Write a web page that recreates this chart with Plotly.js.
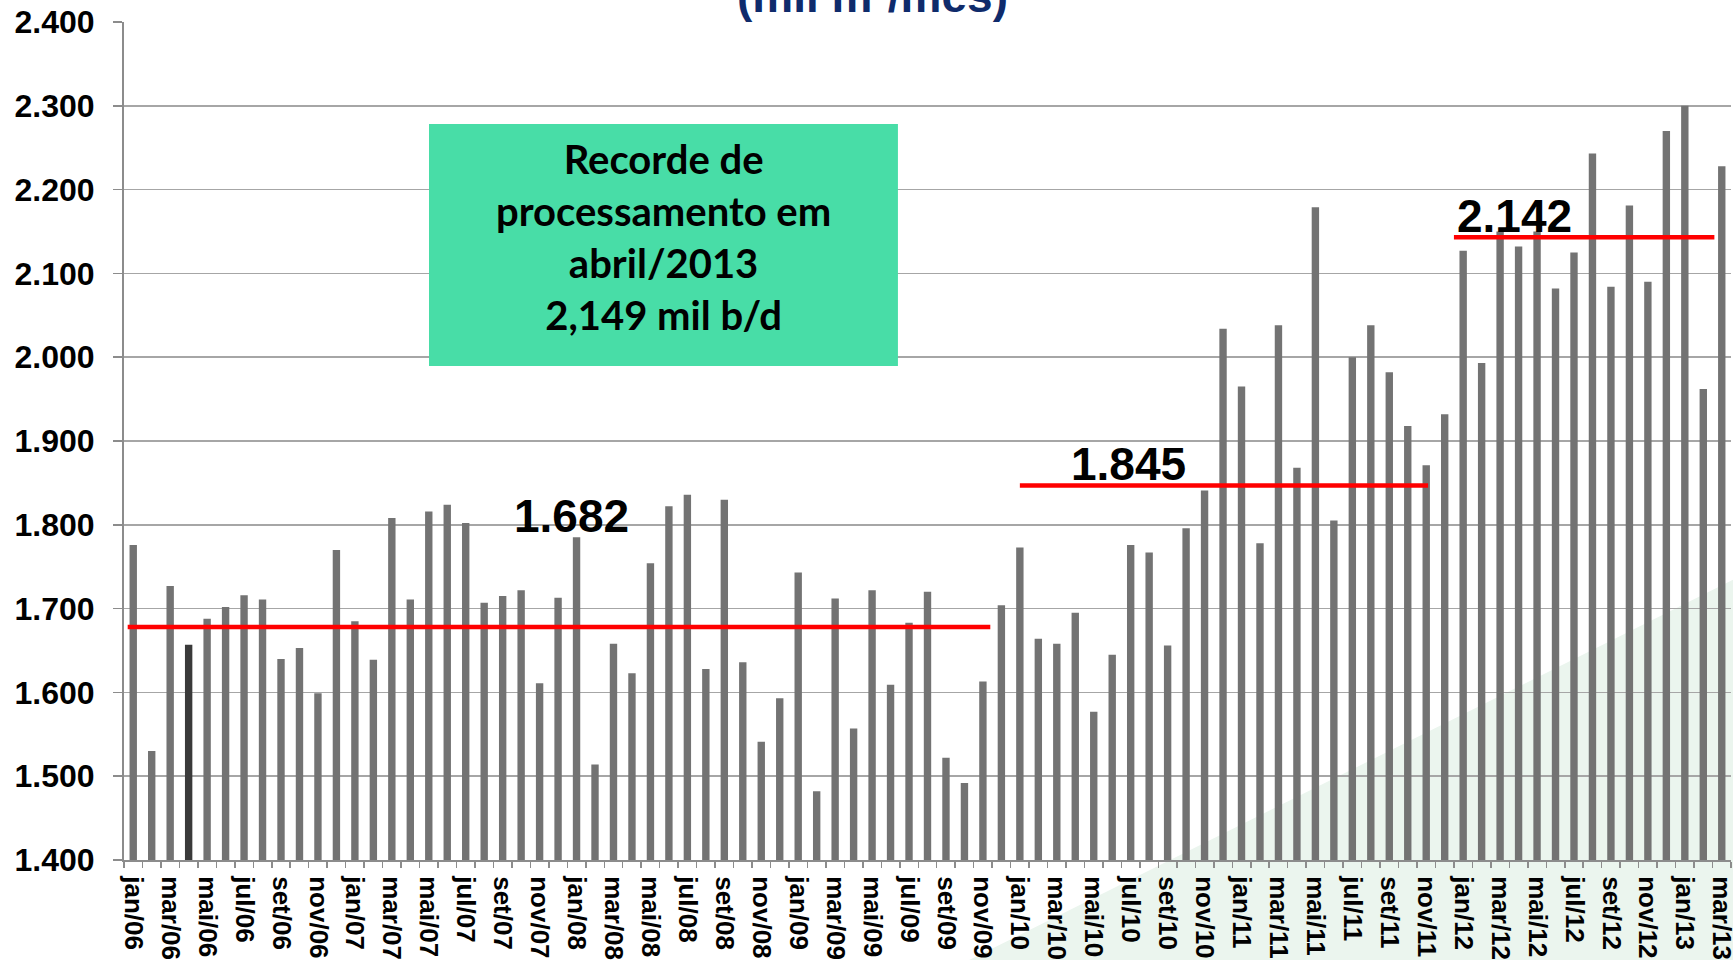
<!DOCTYPE html>
<html>
<head>
<meta charset="utf-8">
<script src="https://cdn.plot.ly/plotly-3.0.1.min.js"></script>
<style>
  html, body { margin: 0; padding: 0; background: #ffffff; }
  #chart { width: 1733px; height: 960px; }
</style>
</head>
<body>
<div id="chart"></div>
<script>
// Months (categories)
const categories = [
  'jan/06','fev/06','mar/06','abr/06','mai/06','jun/06','jul/06','ago/06','set/06','out/06','nov/06','dez/06',
  'jan/07','fev/07','mar/07','abr/07','mai/07','jun/07','jul/07','ago/07','set/07','out/07','nov/07','dez/07',
  'jan/08','fev/08','mar/08','abr/08','mai/08','jun/08','jul/08','ago/08','set/08','out/08','nov/08','dez/08',
  'jan/09','fev/09','mar/09','abr/09','mai/09','jun/09','jul/09','ago/09','set/09','out/09','nov/09','dez/09',
  'jan/10','fev/10','mar/10','abr/10','mai/10','jun/10','jul/10','ago/10','set/10','out/10','nov/10','dez/10',
  'jan/11','fev/11','mar/11','abr/11','mai/11','jun/11','jul/11','ago/11','set/11','out/11','nov/11','dez/11',
  'jan/12','fev/12','mar/12','abr/12','mai/12','jun/12','jul/12','ago/12','set/12','out/12','nov/12','dez/12',
  'jan/13','fev/13','mar/13'
];

// Monthly processing (mil m3/mes)
const processing = [
  1776, 1530, 1727, 1657, 1688, 1702, 1716, 1711, 1640, 1653, 1599, 1770,
  1685, 1639, 1808, 1711, 1816, 1824, 1802, 1707, 1715, 1722, 1611, 1713,
  1785, 1514, 1658, 1623, 1754, 1822, 1836, 1628, 1830, 1636, 1541, 1593,
  1743, 1482, 1712, 1557, 1722, 1609, 1683, 1720, 1522, 1492, 1613, 1704,
  1773, 1664, 1658, 1695, 1577, 1645, 1776, 1767, 1656, 1796, 1841, 2034,
  1965, 1778, 2038, 1868, 2179, 1805, 2000, 2038, 1982, 1918, 1871, 1932,
  2127, 1993, 2150, 2132, 2150, 2082, 2125, 2243, 2084, 2181, 2090, 2270,
  2300, 1962, 2228
];

// Period averages (red lines) and their labels
const avgLevels = [1678, 1847, 2143];
const avgLabels = ['1.682', '1.845', '2.142'];

const highlightMonth = 'abr/06';
const boxLines = ['Recorde de', 'processamento em', 'abril/2013', '2,149 mil b/d'];
const unitTitle = '(mil m³/mês)';

// Tick labels: every other month
const tickText = categories.map((c, i) => (i % 2 === 0 ? c : ''));
const barColors = categories.map(c => (c === highlightMonth ? '#3a3a3a' : '#737373'));

// Span of each average line in category-index units
const avgSpans = [[-0.3, 46.4], [48.0, 70.1], [71.5, 85.6]];
const labelPos = [[23.7, 1810], [53.9, 1873], [74.8, 2168]];

const trace = {
  type: 'bar',
  x: categories,
  y: processing,
  marker: { color: barColors, line: { width: 0 } },
  hoverinfo: 'x+y'
};

const shapes = [
  // pale green background wedge (decoration)
  {
    type: 'path', xref: 'paper', yref: 'paper', layer: 'below',
    path: 'M 0.52 -0.125 L 1.002 0.335 L 1.002 -0.125 Z',
    fillcolor: '#ebf5ee', line: { width: 0 }
  },
  // green info box
  {
    type: 'rect', xref: 'paper', yref: 'paper', layer: 'above',
    x0: 0.1898, x1: 0.4816, y0: 0.5895, y1: 0.8783,
    fillcolor: '#48dda7', line: { width: 0 }
  }
];
avgLevels.forEach((lv, i) => {
  shapes.push({
    type: 'line', xref: 'x', yref: 'y',
    x0: avgSpans[i][0], x1: avgSpans[i][1], y0: lv, y1: lv,
    line: { color: '#ff0000', width: 4.5 }
  });
});

const annotations = [
  {
    xref: 'paper', yref: 'paper', x: 0.466, y: 1.031,
    xanchor: 'center', yanchor: 'middle', showarrow: false,
    text: '<b>' + unitTitle + '</b>',
    font: { family: 'Liberation Sans, Arial, sans-serif', size: 46, color: '#0f2b6b' }
  },
  {
    xref: 'paper', yref: 'paper', x: 0.3357, y: 0.744,
    xanchor: 'center', yanchor: 'middle', showarrow: false,
    text: '<b>' + boxLines.join('<br>') + '</b>',
    align: 'center',
    font: { family: 'Lato, Open Sans, sans-serif', size: 40, color: '#000000' }
  }
];
avgLabels.forEach((lab, i) => {
  annotations.push({
    xref: 'x', yref: 'y', x: labelPos[i][0], y: labelPos[i][1],
    xanchor: 'center', yanchor: 'middle', showarrow: false,
    text: '<b>' + lab + '</b>',
    font: { family: 'Liberation Sans, Arial, sans-serif', size: 46, color: '#000000' }
  });
});

const layout = {
  width: 1733, height: 960,
  margin: { l: 124, r: 2, t: 22, b: 100, pad: 0 },
  paper_bgcolor: '#ffffff',
  plot_bgcolor: 'rgba(0,0,0,0)',
  separators: ',.',
  showlegend: false,
  bargap: 0.6,
  xaxis: {
    type: 'category',
    tickmode: 'array',
    tickvals: categories,
    ticktext: tickText,
    tickson: 'boundaries',
    ticks: 'outside', ticklen: 6, tickwidth: 1.5, tickcolor: '#8c8c8c',
    tickangle: 90,
    ticklabelstandoff: 9,
    tickfont: { family: 'Liberation Sans, Arial, sans-serif', size: 26, color: '#000000', weight: 'bold' },
    showline: true, linecolor: '#8c8c8c', linewidth: 2,
    showgrid: false, zeroline: false,
    range: [-0.5, 86.5]
  },
  yaxis: {
    range: [1400, 2400],
    tickmode: 'linear', tick0: 1400, dtick: 100,
    tickformat: ',d',
    ticks: 'outside', ticklen: 9, tickwidth: 1.5, tickcolor: '#8c8c8c',
    ticklabelstandoff: 12,
    tickfont: { family: 'Liberation Sans, Arial, sans-serif', size: 32, color: '#000000', weight: 'bold' },
    showline: true, linecolor: '#8c8c8c', linewidth: 2,
    showgrid: true, gridcolor: '#a6a6a6', gridwidth: 1.5,
    zeroline: false
  },
  shapes: shapes,
  annotations: annotations
};

Plotly.newPlot('chart', [trace], layout, { displayModeBar: false, staticPlot: true });
</script>
</body>
</html>
